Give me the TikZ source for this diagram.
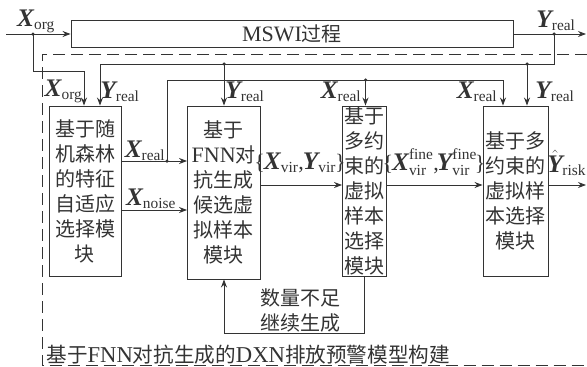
\documentclass[tikz,border=0pt]{standalone}
\usepackage{fontspec}
\usepackage{amsmath}
\setmainfont{Liberation Serif}[Scale=1.1]
\newfontfamily\cjk{Noto Sans CJK SC}
\usetikzlibrary{arrows.meta}
\newcommand\bigv[1]{\text{\fontsize{23}{25}\selectfont\bfseries\itshape #1}}
\newcommand\smallt[1]{\text{\fontsize{14}{16}\selectfont #1}}
\newcommand\lab[2]{$\bigv{#1}_{\smallt{#2}}$}
\newcommand\labf[1]{$\bigv{#1}^{\smallt{fine}}_{\smallt{vir}}$}
\begin{document}
\begin{tikzpicture}[x=1pt,y=-1pt,
  color=black!80, line width=0.9pt,
  font=\fontsize{20}{25}\selectfont,
  box/.style={draw, rectangle, inner sep=0pt, align=center,
    font=\fontsize{20}{25}\selectfont\cjk},
  arr/.style={-{Stealth[length=8pt,width=6pt]}},
  dot/.style={circle, fill=black!80, inner sep=0pt, minimum size=3.5pt},
  lbl/.style={inner sep=0pt},
  cjkt/.style={inner sep=0pt, align=center, font=\fontsize{20}{25}\selectfont\cjk}]
\useasboundingbox (0,0) rectangle (587,367);

% dashed frame
\coordinate (dtr) at (587,54);
\coordinate (dbr) at (587,365.5);
\draw[dash pattern=on 12pt off 6pt] (dtr) -- (42,54) -- (42,365.5) -- (dbr);

% process box
\node[box, minimum width=442pt, minimum height=27pt] (mswi) at (292,34)
  {{\rmfamily MSWI}过程};

% module boxes
\node[box, minimum width=72pt, minimum height=170pt, text width=66pt] (b1) at (85,191)
  {基于随\\机森林\\的特征\\自适应\\选择模\\块};
\node[box, minimum width=72.5pt, minimum height=173pt, text width=66pt] (b2) at (223.75,192.5)
  {基于\\{\rmfamily FNN}对\\抗生成\\候选虚\\拟样本\\模块};
\node[box, minimum width=44pt, minimum height=170pt, text width=40pt] (b3) at (364.5,191)
  {基于\\多约\\束的\\虚拟\\样本\\选择\\模块};
\node[box, minimum width=65.5pt, minimum height=170pt, text width=61pt] (b4) at (515.75,191)
  {基于多\\约束的\\虚拟样\\本选择\\模块};

% input / output of process
\coordinate (in) at (6,34);
\coordinate (out) at (586,34);
\node[dot] (d0) at (33,34) {};
\node[dot] (d1) at (554,34) {};
\draw[arr] (in) -- (mswi.west);
\draw[arr] (mswi.east) -- (out);

% X_org feed
\coordinate (c1) at (84,71);
\draw[arr] (d0.center) |- (c1) -- (c1 |- b1.north);
% Y_real feed
\coordinate (c2) at (100,64);
\draw[arr] (d1.center) |- (c2) -- (c2 |- b1.north);
\node[dot] (d2) at (224,64) {};
\draw[arr] (d2.center) -- (d2 |- b2.north);
\node[dot] (d3) at (527,64) {};
\draw[arr] (d3.center) -- (d3 |- b4.north);

% X_real
\node[dot] (d4) at (167,161) {};
\draw[arr] (b1.east |- d4) -- (b2.west |- d4);
\coordinate (c3) at (503,80);
\draw[arr] (d4.center) |- (c3) -- (c3 |- b4.north);
\node[dot] (d5) at (365.5,80) {};
\draw[arr] (d5.center) -- (d5 |- b3.north);

% X_noise
\coordinate (nz) at (150,210);
\draw[arr] (b1.east |- nz) -- (b2.west |- nz);

% main chain
\coordinate (m) at (300,185);
\coordinate (out2) at (586,185);
\draw[arr] (b2.east |- m) -- (b3.west |- m);
\draw[arr] (b3.east |- m) -- (b4.west |- m);
\draw[arr] (b4.east |- out2) -- (out2);

% feedback
\coordinate (fb) at (224,333);
\draw[arr] (b3.south) |- (fb) -- (fb |- b2.south);

% labels
\node[lbl] (l1) at (36,21) {\lab{X}{org}};
\node[lbl] (l2) at (556,21) {\lab{Y}{real}};
\node[lbl] (l3) at (63.5,91) {\lab{X}{org}};
\node[lbl] (l4) at (120,92) {\lab{Y}{real}};
\node[lbl] (l5) at (245,92) {\lab{Y}{real}};
\node[lbl] (l6) at (341,92) {\lab{X}{real}};
\node[lbl] (l7) at (477,92) {\lab{X}{real}};
\node[lbl] (l8) at (555,92) {\lab{Y}{real}};
\node[lbl] (l9) at (145,151) {\lab{X}{real}};
\node[lbl] (l10) at (151,199) {\lab{X}{noise}};
\node[lbl] (l11) at (300,163) {\{\kern-1pt\lab{X}{vir},\kern-1pt\lab{Y}{vir}\kern-1pt\}};
\node[lbl] (l12) at (434,162) {\{\kern-1pt\labf{X},\kern-2pt\labf{Y}\kern-2pt\}};
\node[lbl, anchor=east] (l13) at (586.5,163) {$\hat{\bigv{Y}}_{\kern-0.5pt\smallt{risk}}$};
\node[cjkt] (l14) at (300,310) {数量不足\\继续生成};
\node[cjkt, anchor=west, font=\fontsize{20.6}{25}\selectfont\cjk] (l15) at (46,355)
  {基于{\rmfamily FNN}对抗生成的{\rmfamily DXN}排放预警模型构建};
\end{tikzpicture}
\end{document}
